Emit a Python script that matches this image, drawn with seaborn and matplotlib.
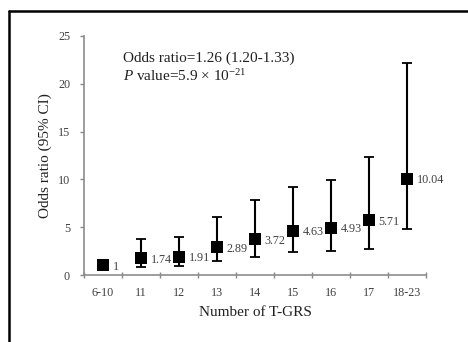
import numpy as np
import pandas as pd
import seaborn as sns
import matplotlib
matplotlib.use("Agg")
import matplotlib.pyplot as plt
from matplotlib.lines import Line2D

categories = ["6-10", "11", "12", "13", "14", "15", "16", "17", "18-23"]
odds_ratio = [1.0, 1.74, 1.91, 2.89, 3.72, 4.63, 4.93, 5.71, 10.04]
ci_lower = [np.nan, 0.80, 0.94, 1.46, 1.84, 2.40, 2.53, 2.74, 4.79]
ci_upper = [np.nan, 3.78, 4.00, 6.04, 7.80, 9.24, 9.93, 12.30, 22.20]
value_labels = ["1", "1.74", "1.91", "2.89", "3.72", "4.63", "4.93", "5.71", "10.04"]
y_ticks = [0, 5, 10, 15, 20, 25]

sns.set_style("white")
plt.rcParams['font.family'] = ['Liberation Serif', 'DejaVu Serif']
plt.rcParams['mathtext.fontset'] = 'custom'
plt.rcParams['mathtext.rm'] = 'Liberation Serif'
plt.rcParams['mathtext.it'] = 'Liberation Serif:italic'

df = pd.DataFrame({"group": categories, "or": odds_ratio,
                   "lo": ci_lower, "hi": ci_upper})
df["x"] = np.arange(len(df))

fig = plt.figure(figsize=(4.68, 3.42), dpi=100)
ax = fig.add_axes([84/468, 1-275/342, (426-84)/468, (275-36)/342])

yerr = np.vstack([df["or"] - df["lo"], df["hi"] - df["or"]])
ax.errorbar(df["x"], df["or"], yerr=np.nan_to_num(yerr), fmt='none',
            ecolor='black', elinewidth=1.5, capsize=3.5, capthick=1.3, zorder=2)
sns.scatterplot(data=df, x="x", y="or", marker='s', s=80, color='black',
                edgecolor='black', linewidth=0, ax=ax, zorder=3, legend=False)

for xi, yi, lab in zip(df["x"], df["or"], value_labels):
    ax.annotate(lab, (xi, yi), xytext=(7, -1), textcoords='offset points',
                ha='left', va='center', fontsize=8.7, color='#404040')

ax.set_xlim(-0.5, len(categories) - 0.5)
ax.set_ylim(0, 25)
ax.set_yticks(y_ticks)
ax.set_xticks(df["x"])
ax.set_xticklabels(categories)
ax.set_xticks(np.arange(-0.5, len(categories)), minor=True)
ax.tick_params(axis='x', which='major', length=0, pad=9, labelsize=8.7, labelcolor='#404040')
ax.tick_params(axis='x', which='minor', length=4, width=1, color='#888888', direction='inout')
ax.tick_params(axis='y', which='major', length=3, width=1, color='#888888', direction='out',
               pad=7, labelsize=8.7, labelcolor='#404040', left=True)
ax.xaxis.set_tick_params(which='minor', bottom=True)

for s in ['top', 'right']:
    ax.spines[s].set_visible(False)
for s in ['left', 'bottom']:
    ax.spines[s].set_color('#8c8c8c')
    ax.spines[s].set_linewidth(1.2)

ax.set_xlabel("Number of T-GRS", fontsize=11, color='#202020', labelpad=5)
ax.set_ylabel("Odds ratio (95% CI)", fontsize=11, color='#202020', labelpad=4)

fig.text(123/468, 1-58/342, "Odds ratio=1.26 (1.20-1.33)", fontsize=11,
         color='#202020', va='center', ha='left')
fig.text(123/468, 1-76/342, r"$\mathit{P}$ value=5.9 × 10$^{-21}$", fontsize=11,
         color='#202020', va='center', ha='left')

# outer frame
fig.add_artist(Line2D([8.5/468, 1.0], [1-10.5/342, 1-10.5/342], color='black',
                      linewidth=1.8, transform=fig.transFigure))
fig.add_artist(Line2D([8.5/468, 8.5/468], [0, 1-10.5/342], color='black',
                      linewidth=1.8, transform=fig.transFigure))

fig.savefig("out.png", dpi=100)
